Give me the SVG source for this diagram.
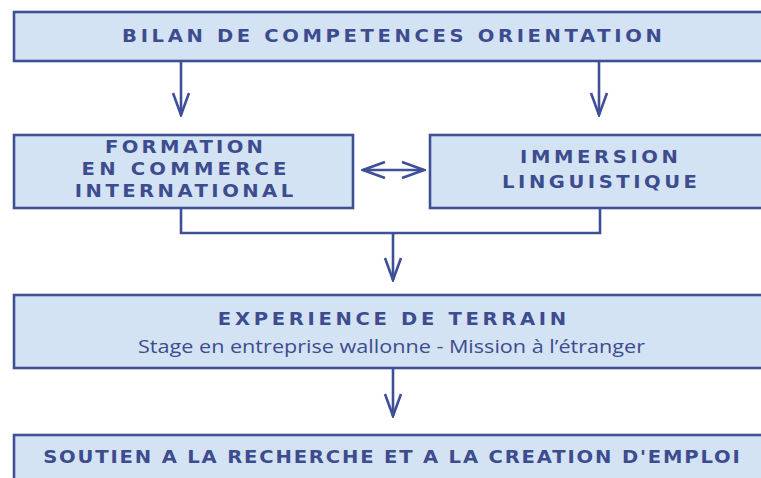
<svg xmlns="http://www.w3.org/2000/svg" width="761" height="478" viewBox="0 0 761 478">
<style>
.box{fill:#d4e3f3;stroke:#3f5096;stroke-width:2.6}
.cap{font-family:"DejaVu Sans","Liberation Sans",sans-serif;font-size:17.5px;font-weight:bold;fill:#3d4c8e;text-anchor:middle}
.sub{font-family:"Open Sans","Noto Sans",sans-serif;font-size:18.5px;fill:#3d4c8e;text-anchor:middle}
.ln{fill:none;stroke:#3f5096;stroke-width:2.6}
</style>
<defs>
<marker id="arr" viewBox="-25 -10 27 20" refX="0" refY="0" markerWidth="27" markerHeight="20" markerUnits="userSpaceOnUse" orient="auto-start-reverse">
<path d="M-22,-8 L0,0 L-22,8" fill="none" stroke="#3f5096" stroke-width="2.6"/>
</marker>
</defs>
<g id="connectors">
<line class="ln" x1="181" y1="62" x2="181" y2="115" marker-end="url(#arr)"/>
<line class="ln" x1="599" y1="62" x2="599" y2="115" marker-end="url(#arr)"/>
<line class="ln" x1="363" y1="170" x2="424" y2="170" marker-start="url(#arr)" marker-end="url(#arr)"/>
<polyline class="ln" points="181,208 181,233 600,233 600,208"/>
<line class="ln" x1="393" y1="233" x2="393" y2="280" marker-end="url(#arr)"/>
<line class="ln" x1="393" y1="368" x2="393" y2="416" marker-end="url(#arr)"/>
</g>
<g id="bilan">
<rect class="box" x="14" y="12" width="760" height="49"/>
<text class="cap" transform="translate(392,42) scale(1.12,1)" textLength="482" lengthAdjust="spacing">BILAN DE COMPETENCES ORIENTATION</text>
</g>
<g id="formation">
<rect class="box" x="14" y="135" width="339" height="73"/>
<text class="cap" transform="translate(184,153) scale(1.12,1)" textLength="141" lengthAdjust="spacing">FORMATION</text>
<text class="cap" transform="translate(184,175) scale(1.12,1)" textLength="183" lengthAdjust="spacing">EN COMMERCE</text>
<text class="cap" transform="translate(184,197) scale(1.12,1)" textLength="195" lengthAdjust="spacing">INTERNATIONAL</text>
</g>
<g id="immersion">
<rect class="box" x="430" y="135" width="344" height="73"/>
<text class="cap" transform="translate(599,163) scale(1.12,1)" textLength="141" lengthAdjust="spacing">IMMERSION</text>
<text class="cap" transform="translate(599.5,188) scale(1.12,1)" textLength="174" lengthAdjust="spacing">LINGUISTIQUE</text>
</g>
<g id="experience">
<rect class="box" x="14" y="295" width="760" height="73"/>
<text class="cap" transform="translate(392,325) scale(1.12,1)" textLength="311" lengthAdjust="spacing">EXPERIENCE DE TERRAIN</text>
<text class="sub" x="391.5" y="353" textLength="507" lengthAdjust="spacingAndGlyphs">Stage en entreprise wallonne - Mission à l’étranger</text>
</g>
<g id="soutien">
<rect class="box" x="14" y="435" width="760" height="60"/>
<text class="cap" transform="translate(391.5,463) scale(1.12,1)" textLength="622" lengthAdjust="spacing">SOUTIEN A LA RECHERCHE ET A LA CREATION D'EMPLOI</text>
</g>
</svg>
